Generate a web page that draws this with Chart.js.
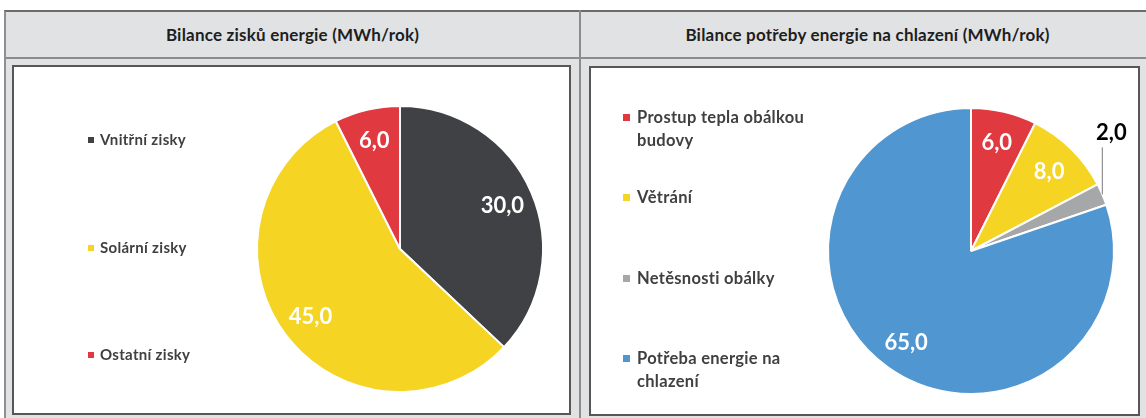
<!DOCTYPE html>
<html>
<head>
<meta charset="utf-8">
<script src="https://cdn.jsdelivr.net/npm/chart.js@4/dist/chart.umd.min.js"></script>
<style>
  html, body { margin: 0; padding: 0; background: #ffffff; }
  body { width: 1146px; height: 418px; position: relative; overflow: hidden; font-family: Lato, "Open Sans", sans-serif; }
  #frame { position: absolute; left: 4px; top: 10px; width: 1142px; height: 408px; background: #e1e2e4;
           border-left: 2px solid #8f8f8f; border-top: 2px solid #6b6b6b; box-sizing: border-box; }
  #hline { position: absolute; left: 6px; top: 57px; width: 1140px; height: 2px; background: #8c8c8c; }
  #vline { position: absolute; left: 579px; top: 10px; width: 2px; height: 408px; background: #8c8c8c; }
  .title { position: absolute; top: 12px; height: 45px; line-height: 45px; text-align: center;
           font-weight: bold; font-size: 17px; letter-spacing: 0.2px; color: #1e1e1e; white-space: nowrap; }
  .panel { position: absolute; background: #ffffff; border: 2px solid #575757; box-sizing: border-box; }
  .panel canvas { position: absolute; left: 0; top: 0; }
</style>
</head>
<body>
<div id="frame"></div>
<div id="hline"></div>
<div id="vline"></div>
<div class="title" id="t1" style="left:6px; width:573px;"></div>
<div class="title" id="t2" style="left:585px; width:565px;"></div>
<div class="panel" style="left:12px; top:65px; width:559px; height:350px;">
  <canvas id="c1" width="555" height="346"></canvas>
</div>
<div class="panel" style="left:589px; top:66px; width:551px; height:350px;">
  <canvas id="c2" width="547" height="346"></canvas>
</div>
<script>
// ---- data ----
const leftTitle = "Bilance zisků energie (MWh/rok)";
const rightTitle = "Bilance potřeby energie na chlazení (MWh/rok)";
const leftCategories = ["Vnitřní zisky", "Solární zisky", "Ostatní zisky"];
const leftValues = [30.0, 45.0, 6.0];
const rightCategories = [["Prostup tepla obálkou", "budovy"], "Větrání", "Netěsnosti obálky", ["Potřeba energie na", "chlazení"]];
const rightValues = [6.0, 8.0, 2.0, 65.0];

// ---- styles ----
const leftColors = ["#404144", "#f5d423", "#e0393f"];
const rightColors = ["#e0393f", "#f5d423", "#a6a7a9", "#5096d1"];
const FONT = "Lato, 'Open Sans', sans-serif";

document.getElementById('t1').textContent = leftTitle;
document.getElementById('t2').textContent = rightTitle;

const sliceLabels = {
  id: 'sliceLabels',
  afterDatasetsDraw(chart, args, o) {
    const ctx = chart.ctx;
    const ds = chart.data.datasets[0];
    const meta = chart.getDatasetMeta(0);
    const total = ds.data.reduce((a, b) => a + b, 0);
    meta.data.forEach((arc, i) => {
      const p = arc.getProps(['x', 'y', 'startAngle', 'endAngle', 'outerRadius'], true);
      const mid = (p.startAngle + p.endAngle) / 2;
      const txt = ds.data[i].toFixed(1).replace('.', ',');
      ctx.save();
      ctx.font = 'bold ' + o.size + 'px ' + FONT;
      ctx.textAlign = 'center';
      ctx.textBaseline = 'alphabetic';
      if (ds.data[i] / total < o.outsideBelow) {
        const ex = p.x + Math.cos(mid) * p.outerRadius;
        const ey = p.y + Math.sin(mid) * p.outerRadius;
        ctx.strokeStyle = o.leaderColor;
        ctx.lineWidth = 1;
        ctx.beginPath();
        ctx.moveTo(ex, ey);
        ctx.lineTo(ex, ey - o.leaderLength);
        ctx.stroke();
        ctx.fillStyle = o.outsideColor;
        ctx.fillText(txt, ex + o.outsideDx, ey - o.leaderLength - o.outsideDy + 0.36 * o.size);
      } else {
        const r = p.outerRadius * o.radius;
        ctx.fillStyle = o.color;
        ctx.fillText(txt, p.x + Math.cos(mid) * r, p.y + Math.sin(mid) * r + 0.36 * o.size);
      }
      ctx.restore();
    });
  }
};

const sideLegend = {
  id: 'sideLegend',
  afterDraw(chart, args, o) {
    const ctx = chart.ctx;
    const ds = chart.data.datasets[0];
    ctx.save();
    chart.data.labels.forEach((lab, i) => {
      const lines = Array.isArray(lab) ? lab : [lab];
      const y = o.y0 + i * o.step;
      ctx.fillStyle = ds.backgroundColor[i];
      ctx.fillRect(o.boxX, Math.round(y - o.box / 2), o.box, o.box);
      ctx.fillStyle = o.color;
      ctx.font = 'bold ' + o.size + 'px ' + FONT;
      if ('letterSpacing' in ctx) ctx.letterSpacing = o.spacing + 'px';
      ctx.textAlign = 'left';
      ctx.textBaseline = 'alphabetic';
      lines.forEach((ln, k) => ctx.fillText(ln, o.textX, y + k * o.lineHeight + 0.36 * o.size));
    });
    ctx.restore();
  }
};

function makePie(id, labels, values, colors, padding, legendOpts) {
  return new Chart(document.getElementById(id), {
    type: 'pie',
    data: {
      labels: labels,
      datasets: [{ data: values, backgroundColor: colors, borderColor: '#ffffff', borderWidth: 2 }]
    },
    options: {
      responsive: false,
      animation: false,
      layout: { padding: padding },
      plugins: {
        legend: { display: false },
        tooltip: { enabled: false },
        sliceLabels: { size: 22, radius: 0.78, color: '#ffffff', outsideBelow: 0.05,
                       leaderColor: '#7a7a7a', leaderLength: 47, outsideDx: 9, outsideDy: 15, outsideColor: '#000000' },
        sideLegend: legendOpts
      }
    },
    plugins: [sliceLabels, sideLegend]
  });
}

makePie('c1', leftCategories, leftValues, leftColors,
  { left: 242, right: 25, top: 38, bottom: 20 },
  { boxX: 74, box: 6, textX: 86, y0: 73, step: 107.5, lineHeight: 22, size: 15, spacing: 0.3, color: '#404040' });

makePie('c2', rightCategories, rightValues, rightColors,
  { left: 236, right: 23, top: 39, bottom: 19 },
  { boxX: 32, box: 7, textX: 46, y0: 49, step: 80.5, lineHeight: 23, size: 16.5, spacing: 0.3, color: '#404040' });
</script>
</body>
</html>
